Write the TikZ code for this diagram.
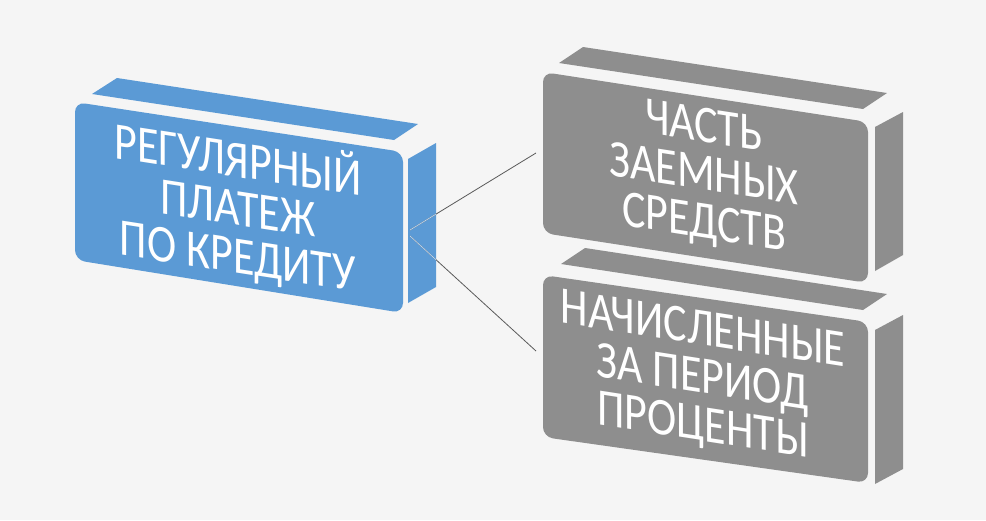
\documentclass[tikz,border=0pt]{standalone}
\usepackage{fontspec}
\setmainfont{Carlito}
\definecolor{bgc}{HTML}{F5F5F5}
\definecolor{blueface}{RGB}{91,154,213}
\definecolor{grayface}{RGB}{142,142,142}
\definecolor{connc}{HTML}{5A5A5A}
\definecolor{connlight}{HTML}{B8D3EE}
\begin{document}
\begin{tikzpicture}[x=1pt,y=-1pt,
  frontface/.style={rounded corners=10pt},
  facetext/.style={cm={1,-0.155,0,1.2,(0,0)}},
  lbl/.style={text=white, align=center, inner sep=0pt, transform shape,
    font=\fontsize{44}{40}\selectfont},
  conn/.style={draw=connc, line width=0.8pt},
  connin/.style={draw=connlight, line width=0.8pt}]
\fill[bgc] (0,0) rectangle (986,520);
\useasboundingbox (0,0) rectangle (986,520);

% blue block
\fill[blueface] (92,94) -- (117,78) -- (418,124) -- (394,140) -- cycle;
\fill[blueface, frontface] (75,102) -- (403,152) -- (403,313) -- (75,260) -- cycle;
\fill[blueface] (408,159) -- (436,143) -- (436,287) -- (408,303) -- cycle;

% gray block 1
\fill[grayface] (559,63) -- (583,47) -- (887,93) -- (863,109) -- cycle;
\fill[grayface, frontface] (543,72) -- (868,122) -- (868,283) -- (543,233) -- cycle;
\fill[grayface] (875,127) -- (903,112) -- (903,255) -- (875,271) -- cycle;

% gray block 2
\fill[grayface] (561,264) -- (585,248) -- (887,294) -- (863,310) -- cycle;
\fill[grayface, frontface] (543,275) -- (868,322) -- (868,483) -- (543,437) -- cycle;
\fill[grayface] (875,330) -- (903,315) -- (903,469) -- (875,484) -- cycle;

% labels
\begin{scope}[shift={(238,208)}, facetext]
  \node[lbl] (blue) at (0,0) {РЕГУЛЯРНЫЙ\\ПЛАТЕЖ\\ПО КРЕДИТУ};
\end{scope}
\begin{scope}[shift={(704,177)}, facetext]
  \node[lbl] (grayA) at (0,0) {ЧАСТЬ\\ЗАЕМНЫХ\\СРЕДСТВ};
\end{scope}
\begin{scope}[shift={(703,380)}, facetext]
  \node[lbl] (grayB) at (0,0) {НАЧИСЛЕННЫЕ\\ЗА ПЕРИОД\\ПРОЦЕНТЫ};
\end{scope}

% connectors
\coordinate (bp1) at (410,230);
\coordinate (bp2) at (410,236);
\coordinate (gi1) at (536,153);
\coordinate (gi2) at (536,351);
\draw[conn] (bp1) -- (gi1);
\draw[conn] (bp2) -- (gi2);
\begin{scope}
  \clip (408,159) -- (436,143) -- (436,287) -- (408,303) -- cycle;
  \draw[connin] (bp1) -- (gi1);
  \draw[connin] (bp2) -- (gi2);
\end{scope}
\end{tikzpicture}
\end{document}
